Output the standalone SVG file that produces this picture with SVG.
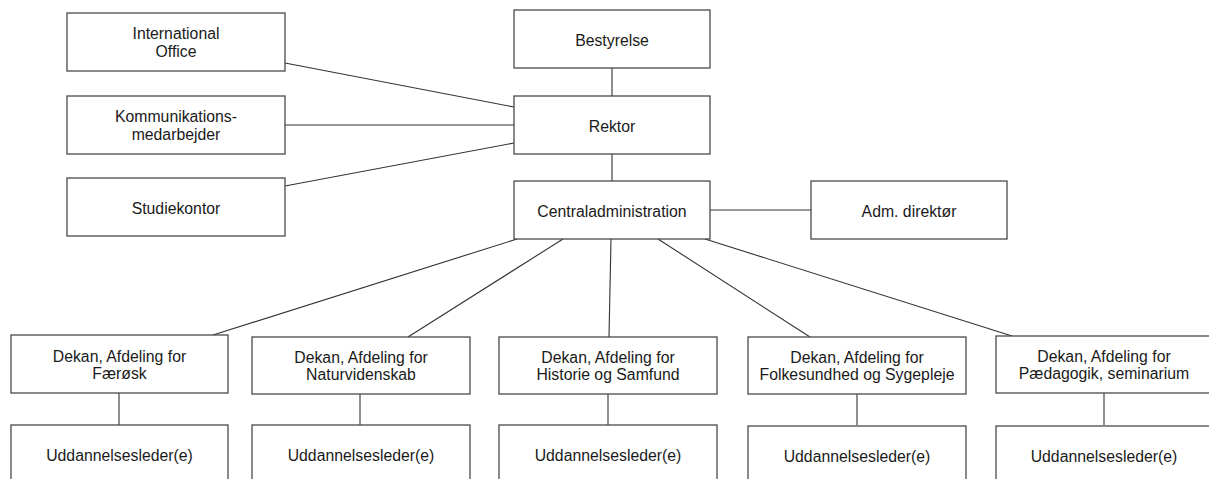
<svg xmlns="http://www.w3.org/2000/svg" width="1209" height="479" viewBox="0 0 1209 479">
  <style>
    .box { fill: #ffffff; stroke: #4a4a4a; stroke-width: 1.3; }
    .lbl { font-family: "Liberation Sans", Arial, sans-serif; font-size: 15.8px; fill: #1a1a1a; text-anchor: middle; }
    .conn line { stroke: #333333; stroke-width: 1.1; }
  </style>
  <rect width="1209" height="479" fill="#ffffff"/>

  <!-- connectors -->
  <g id="connectors" class="conn">
    <line x1="612" y1="68" x2="612" y2="96"/>
    <line x1="612" y1="154" x2="612" y2="181"/>
    <line x1="285" y1="63" x2="514" y2="107"/>
    <line x1="285" y1="125" x2="514" y2="125"/>
    <line x1="285" y1="186" x2="514" y2="143"/>
    <line x1="710" y1="210" x2="811" y2="210"/>
    <line x1="517" y1="239" x2="213" y2="335"/>
    <line x1="563" y1="239" x2="408" y2="337"/>
    <line x1="611" y1="239" x2="609" y2="337"/>
    <line x1="658" y1="239" x2="810" y2="337"/>
    <line x1="705" y1="239" x2="1012" y2="336"/>
    <line x1="119" y1="393" x2="119" y2="425"/>
    <line x1="360" y1="394" x2="360" y2="425"/>
    <line x1="608" y1="394" x2="608" y2="425"/>
    <line x1="857" y1="394" x2="857" y2="425"/>
    <line x1="1104" y1="393" x2="1104" y2="425"/>
  </g>

  <!-- top level -->
  <g id="bestyrelse">
    <rect class="box" x="514" y="10" width="196" height="58"/>
    <text class="lbl" x="612" y="45.5">Bestyrelse</text>
  </g>
  <g id="rektor">
    <rect class="box" x="514" y="96" width="196" height="58"/>
    <text class="lbl" x="612" y="131.5">Rektor</text>
  </g>
  <g id="centraladministration">
    <rect class="box" x="514" y="181" width="196" height="58"/>
    <text class="lbl" x="612" y="216.5">Centraladministration</text>
  </g>
  <g id="adm-direktoer">
    <rect class="box" x="811" y="181" width="196" height="58"/>
    <text class="lbl" x="909" y="216.5">Adm. direktør</text>
  </g>

  <!-- staff functions -->
  <g id="international-office">
    <rect class="box" x="67" y="13" width="218" height="58"/>
    <text class="lbl" x="176" y="39">International</text>
    <text class="lbl" x="176" y="57">Office</text>
  </g>
  <g id="kommunikation">
    <rect class="box" x="67" y="96" width="218" height="58"/>
    <text class="lbl" x="176" y="122">Kommunikations-</text>
    <text class="lbl" x="176" y="140">medarbejder</text>
  </g>
  <g id="studiekontor">
    <rect class="box" x="67" y="178" width="218" height="58"/>
    <text class="lbl" x="176" y="213.5">Studiekontor</text>
  </g>

  <!-- deans -->
  <g id="dekan-faeroesk">
    <rect class="box" x="11" y="335" width="217" height="58"/>
    <text class="lbl" x="119.5" y="361.5">Dekan, Afdeling for</text>
    <text class="lbl" x="119.5" y="379">Færøsk</text>
  </g>
  <g id="dekan-naturvidenskab">
    <rect class="box" x="252" y="337" width="218" height="57"/>
    <text class="lbl" x="361" y="362.5">Dekan, Afdeling for</text>
    <text class="lbl" x="361" y="380">Naturvidenskab</text>
  </g>
  <g id="dekan-historie">
    <rect class="box" x="499" y="337" width="218" height="57"/>
    <text class="lbl" x="608" y="362.5">Dekan, Afdeling for</text>
    <text class="lbl" x="608" y="380">Historie og Samfund</text>
  </g>
  <g id="dekan-folkesundhed">
    <rect class="box" x="748" y="337" width="218" height="57"/>
    <text class="lbl" x="857" y="362.5">Dekan, Afdeling for</text>
    <text class="lbl" x="857" y="380">Folkesundhed og Sygepleje</text>
  </g>
  <g id="dekan-paedagogik">
    <rect class="box" x="996" y="336" width="217" height="57"/>
    <text class="lbl" x="1104" y="361.5">Dekan, Afdeling for</text>
    <text class="lbl" x="1104" y="379">Pædagogik, seminarium</text>
  </g>

  <!-- programme leaders -->
  <g id="uddannelse-faeroesk">
    <rect class="box" x="11" y="425" width="217" height="64"/>
    <text class="lbl" x="119.5" y="461">Uddannelsesleder(e)</text>
  </g>
  <g id="uddannelse-naturvidenskab">
    <rect class="box" x="252" y="425" width="218" height="64"/>
    <text class="lbl" x="361" y="461">Uddannelsesleder(e)</text>
  </g>
  <g id="uddannelse-historie">
    <rect class="box" x="499" y="425" width="218" height="64"/>
    <text class="lbl" x="608" y="461">Uddannelsesleder(e)</text>
  </g>
  <g id="uddannelse-folkesundhed">
    <rect class="box" x="748" y="426" width="218" height="64"/>
    <text class="lbl" x="857" y="462">Uddannelsesleder(e)</text>
  </g>
  <g id="uddannelse-paedagogik">
    <rect class="box" x="996" y="426" width="217" height="64"/>
    <text class="lbl" x="1104" y="462">Uddannelsesleder(e)</text>
  </g>
</svg>
